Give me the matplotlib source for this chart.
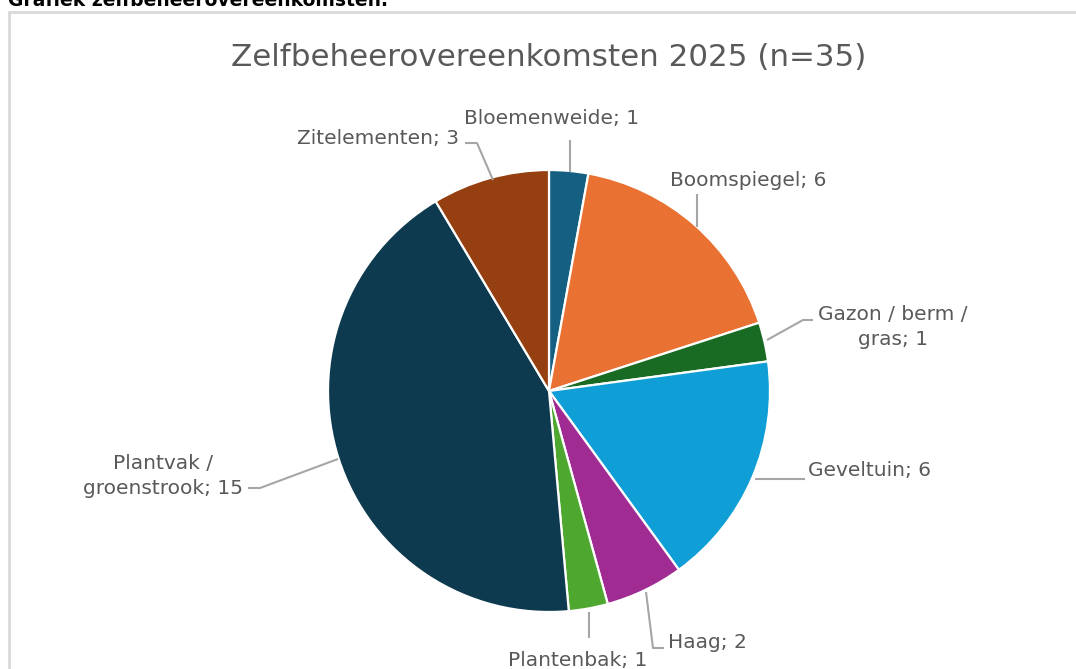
import matplotlib.pyplot as plt
from matplotlib.patches import Rectangle

labels = ['Bloemenweide', 'Boomspiegel', 'Gazon / berm /\ngras', 'Geveltuin',
          'Haag', 'Plantenbak', 'Plantvak /\ngroenstrook', 'Zitelementen']
values = [1, 6, 1, 6, 2, 1, 15, 3]
colors = ['#156082', '#E97132', '#196B24', '#0F9ED5',
          '#A02B93', '#4EA72E', '#0E3A4F', '#963F10']

W, H = 1076, 669
CX, CY, R = 549, 391, 221   # pie centre / radius in pixels

def px(x, y):
    # pixel position (origin top-left) -> pie data coordinates
    return (x - CX) / R, (CY - y) / R

plt.rcParams['font.family'] = ['DejaVu Sans']
fig = plt.figure(figsize=(W / 100, H / 100), dpi=100)
ax = fig.add_axes([0, 0, 1, 1])

ax.pie(values, colors=colors, startangle=90, counterclock=False, radius=1,
       wedgeprops=dict(edgecolor='white', linewidth=1.6))

ax.set_aspect('auto')
ax.set_xlim((0 - CX) / R, (W - CX) / R)
ax.set_ylim((CY - H) / R, CY / R)
ax.axis('off')

# outer chart border (runs off the right and bottom)
x0, y0 = px(9, 12)
x1, y1 = px(W + 20, H + 20)
ax.add_patch(Rectangle((x0, y1), x1 - x0, y0 - y1, fill=False,
                       edgecolor='#d9d9d9', linewidth=2, clip_on=False))

ax.text(*px(8, 6), 'Grafiek zelfbeheerovereenkomsten.', fontsize=13.5,
        fontweight='bold', color='black', ha='left', va='baseline')

ax.text(*px(549, 57), 'Zelfbeheerovereenkomsten 2025 (n=35)', fontsize=22.3,
        color='#595959', ha='center', va='center')

# label anchor, alignment and leader line points (pixels)
layout = [
    ((552, 118), 'center', [(570, 140), (570, 172)]),
    ((670, 181), 'left', [(697, 194), (697, 227)]),
    ((893, 327), 'center', [(767, 340), (803, 320), (813, 320)]),
    ((808, 470), 'left', [(755, 479), (805, 479)]),
    ((668, 643), 'left', [(646, 592), (653, 648), (664, 648)]),
    ((578, 660), 'center', [(589, 612), (589, 638)]),
    ((243, 476), 'right', [(338, 459), (260, 488), (248, 488)]),
    ((459, 138), 'right', [(465, 143), (477, 143), (493, 180)]),
]

for lab, val, (pos, ha, pts) in zip(labels, values, layout):
    ax.text(*px(*pos), f'{lab}; {val}', fontsize=14.5, color='#595959',
            ha=ha, va='center', multialignment='center', linespacing=1.35)
    xs, ys = zip(*[px(*p) for p in pts])
    ax.plot(xs, ys, color='#a6a6a6', linewidth=1.5, solid_capstyle='butt')

fig.savefig('out.png', dpi=100)
